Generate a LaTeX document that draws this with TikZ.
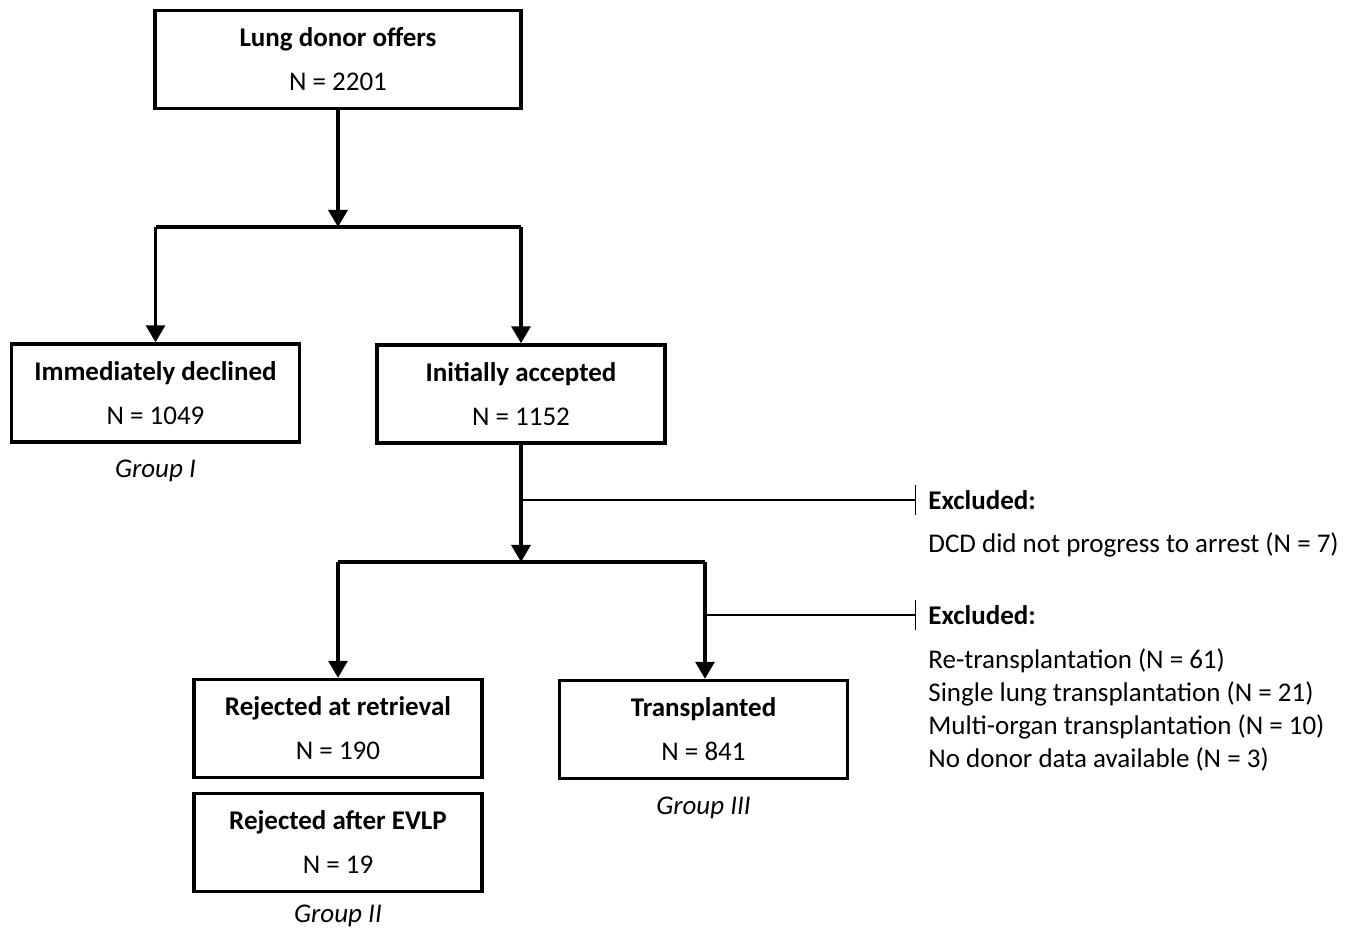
\documentclass[tikz,border=0pt]{standalone}
\usepackage{fontspec}
\setmainfont{Carlito}
\usetikzlibrary{arrows.meta,positioning}
\tikzset{
    flow box/.style = {
        draw,
        line width=1.7pt,
        minimum width=144pt,
        minimum height=49pt,
        align=center,
        font=\fontsize{13.5}{22}\selectfont,
        },
    group/.style = {
        font=\fontsize{13.5}{16}\selectfont\itshape,
        },
    flow/.style = {
        line width=1.6pt,
        },
    excl line/.style = {
        line width=0.6pt,
        -{Bar[width=15pt,line width=0.6pt]},
        },
    excl head/.style = {
        anchor=west,
        inner xsep=6pt,
        font=\fontsize{13.5}{16}\selectfont\bfseries,
        },
    excl list/.style = {
        inner xsep=0pt,
        align=left,
        font=\fontsize{13.5}{16.5}\selectfont,
        },
}
\begin{document}
\begin{tikzpicture}[x=0.5pt,y=-0.5pt,>={Triangle[width=9.5pt,length=8.5pt]}]
\useasboundingbox (0,0) rectangle (1357,930);
% boxes
\node[flow box, minimum width=183pt] (offers) at (338,59.5) {\textbf{Lung donor offers}\\N = 2201};
\node[flow box] (declined) at (155.5,393) {\textbf{Immediately declined}\\N = 1049};
\node[flow box] (accepted) at (521,394) {\textbf{Initially accepted}\\N = 1152};
\node[flow box] (retrieval) at (338,728.5) {\textbf{Rejected at retrieval}\\N = 190};
\node[flow box] (evlp) at (338,842.5) {\textbf{Rejected after EVLP}\\N = 19};
\node[flow box] (transpl) at (703.5,729.5) {\textbf{Transplanted}\\N = 841};

% group labels
\node[group] (g1) at (155.5,471) {Group I};
\node[group] (g2) at (338,916) {Group II};
\node[group] (g3) at (703.5,808) {Group III};

% exclusions
\node[excl head] (ex1) at (916,500) {Excluded:};
\node[excl list, below right=4.5pt and 6pt of ex1.south west] (ex1list) {DCD did not progress to arrest (N = 7)};
\node[excl head] (ex2) at (916,615) {Excluded:};
\node[excl list, below right=5pt and 6pt of ex2.south west] (ex2list) {Re-transplantation (N = 61)\\Single lung transplantation (N = 21)\\Multi-organ transplantation (N = 10)\\No donor data available (N = 3)};

% split points
\coordinate (split1) at (338,227);
\coordinate (split2) at (521,562);

% connectors
\draw[flow, ->] (offers) -- (split1);
\draw[flow] (declined.north |- split1) -- (accepted.north |- split1);
\draw[flow, ->] (declined.north |- split1) -- (declined);
\draw[flow, ->] (accepted.north |- split1) -- (accepted);
\draw[flow, ->] (accepted) -- (split2);
\draw[flow] (retrieval.north |- split2) -- (705,562) coordinate (split3);
\draw[flow, ->] (retrieval.north |- split2) -- (retrieval);
\draw[flow, ->] (split3) -- (split3 |- transpl.north);
\draw[excl line] (accepted.south |- ex1.west) -- (ex1.west);
\draw[excl line] (split3 |- ex2.west) -- (ex2.west);
\end{tikzpicture}
\end{document}
